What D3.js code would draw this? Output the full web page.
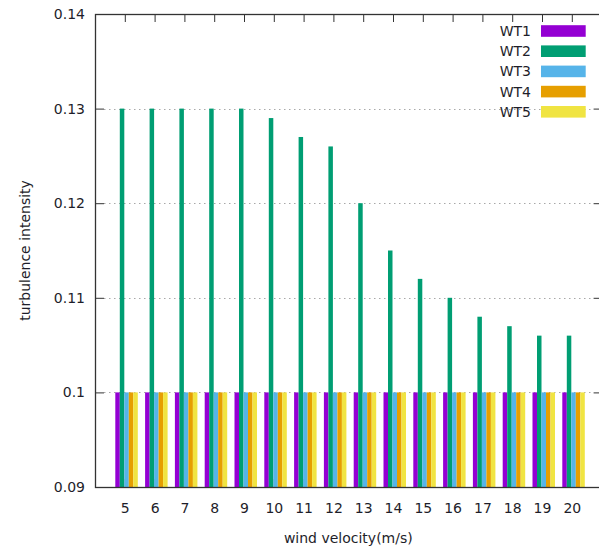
<!DOCTYPE html>
<html>
<head>
<meta charset="utf-8">
<script src="https://cdn.jsdelivr.net/npm/d3@7"></script>
<style>
  html, body { margin: 0; padding: 0; background: #fff; }
  svg { display: block; }
  text { font-family: "DejaVu Sans", Verdana, sans-serif; fill: #1e1e2a; }
</style>
</head>
<body>
<svg id="chart" width="599" height="550"></svg>
<script>
// ---- data ----
const categories = [5, 6, 7, 8, 9, 10, 11, 12, 13, 14, 15, 16, 17, 18, 19, 20];
const seriesNames = ["WT1", "WT2", "WT3", "WT4", "WT5"];
const WT1 = [0.1, 0.1, 0.1, 0.1, 0.1, 0.1, 0.1, 0.1, 0.1, 0.1, 0.1, 0.1, 0.1, 0.1, 0.1, 0.1];
const WT2 = [0.13, 0.13, 0.13, 0.13, 0.13, 0.129, 0.127, 0.126, 0.12, 0.115, 0.112, 0.11, 0.108, 0.107, 0.106, 0.106];
const WT3 = [0.1, 0.1, 0.1, 0.1, 0.1, 0.1, 0.1, 0.1, 0.1, 0.1, 0.1, 0.1, 0.1, 0.1, 0.1, 0.1];
const WT4 = [0.1, 0.1, 0.1, 0.1, 0.1, 0.1, 0.1, 0.1, 0.1, 0.1, 0.1, 0.1, 0.1, 0.1, 0.1, 0.1];
const WT5 = [0.1, 0.1, 0.1, 0.1, 0.1, 0.1, 0.1, 0.1, 0.1, 0.1, 0.1, 0.1, 0.1, 0.1, 0.1, 0.1];
const yTicks = [0.09, 0.1, 0.11, 0.12, 0.13, 0.14];
const yTickLabels = ["0.09", "0.1", "0.11", "0.12", "0.13", "0.14"];
const colors = ["#9400d3", "#009e73", "#56b4e9", "#e69f00", "#f0e442"];
const xTitle = "wind velocity(m/s)";
const yTitle = "turbulence intensity";

const series = [WT1, WT2, WT3, WT4, WT5];

// ---- layout ----
const L = 95, R = 601.6, T = 14, B = 487;
const svg = d3.select("#chart");

const x = d3.scaleLinear().domain([-1, categories.length]).range([L, R]);
const y = d3.scaleLinear().domain([0.09, 0.14]).range([B, T]);
const step = x(1) - x(0);
const barW = step * 0.151;
const groupStart = -9.5; // offset of first bar from tick

// grid
const grid = svg.append("g");
yTicks.forEach(v => {
  if (v === 0.09 || v === 0.14) return;
  grid.append("line")
    .attr("x1", L + 9).attr("x2", R - 9)
    .attr("y1", Math.round(y(v)) + 0.5).attr("y2", Math.round(y(v)) + 0.5)
    .attr("stroke", "#a8a8a8").attr("stroke-width", 1)
    .attr("stroke-dasharray", "1.5,3.5");
});

// bottom ticks (behind bars)
const xAxisBottom = d3.axisBottom(x).tickValues(d3.range(categories.length))
  .tickFormat((d) => categories[d]).tickSize(-8).tickPadding(16);
const gxb = svg.append("g").attr("transform", `translate(0,${B})`).call(xAxisBottom);
gxb.select(".domain").remove();
gxb.selectAll(".tick line").attr("stroke", "#333");
gxb.selectAll(".tick text").attr("font-size", 14).attr("fill", "#1e1e2a")
  .attr("font-family", "DejaVu Sans, Verdana, sans-serif");

// bars
series.forEach((vals, j) => {
  svg.append("g").selectAll("rect").data(vals).join("rect")
    .attr("x", (d, i) => x(i) + groupStart + j * barW)
    .attr("width", barW)
    .attr("y", d => y(d))
    .attr("height", d => y(0.09) - y(d))
    .attr("fill", colors[j]);
});

// top ticks
const xAxisTop = d3.axisTop(x).tickValues(d3.range(categories.length))
  .tickFormat("").tickSize(-8);
const gxt = svg.append("g").attr("transform", `translate(0,${T})`).call(xAxisTop);
gxt.select(".domain").remove();
gxt.selectAll(".tick line").attr("stroke", "#333");

// y axis left
const yAxis = d3.axisLeft(y).tickValues(yTicks)
  .tickFormat((d, i) => yTickLabels[i]).tickSize(-9).tickPadding(10);
const gy = svg.append("g").attr("transform", `translate(${L},0)`).call(yAxis);
gy.select(".domain").remove();
gy.selectAll(".tick line").attr("stroke", "#333");
gy.selectAll(".tick text").attr("font-size", 14).attr("fill", "#1e1e2a")
  .attr("font-family", "DejaVu Sans, Verdana, sans-serif");

// y axis right ticks
const yAxisR = d3.axisRight(y).tickValues(yTicks).tickFormat("").tickSize(-8);
const gyr = svg.append("g").attr("transform", `translate(${R},0)`).call(yAxisR);
gyr.select(".domain").remove();
gyr.selectAll(".tick line").attr("stroke", "#333");

// border
svg.append("rect").attr("x", L + 0.5).attr("y", T + 0.5)
  .attr("width", R - L).attr("height", B - T)
  .attr("fill", "none").attr("stroke", "#333").attr("stroke-width", 1.3);

// titles
svg.append("text").attr("x", (L + R) / 2).attr("y", 543)
  .attr("text-anchor", "middle").attr("font-size", 14).text(xTitle);
svg.append("text").attr("transform", `translate(30,${(T + B) / 2}) rotate(-90)`)
  .attr("text-anchor", "middle").attr("font-size", 14).text(yTitle);

// legend
const legend = svg.append("g");
seriesNames.forEach((name, j) => {
  const cy = 31 + j * 20.2;
  legend.append("text").attr("x", 531).attr("y", cy).attr("dy", "0.35em")
    .attr("text-anchor", "end").attr("font-size", 14).text(name);
  legend.append("rect").attr("x", 541).attr("y", cy - 5.8)
    .attr("width", 44.7).attr("height", 11.6).attr("fill", colors[j]);
});
</script>
</body>
</html>
